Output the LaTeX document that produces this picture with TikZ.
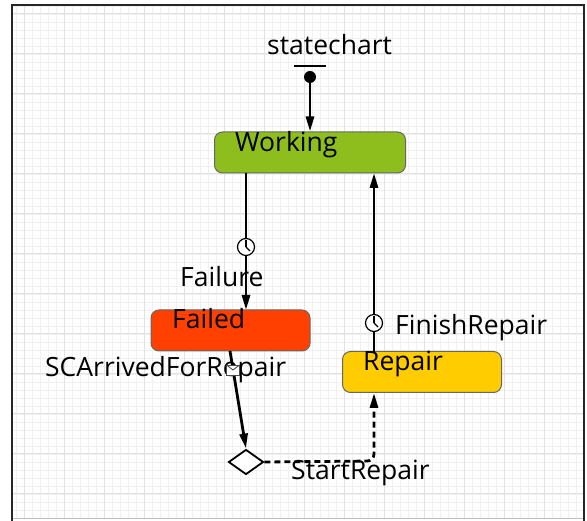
\documentclass[tikz,border=0pt]{standalone}
\usepackage{fontspec}
\setmainfont{Open Sans}
\usetikzlibrary{arrows.meta, shapes.geometric}
\definecolor{workingcol}{RGB}{141,190,30}
\definecolor{failedcol}{RGB}{255,64,0}
\definecolor{repaircol}{RGB}{255,204,0}
\definecolor{minorgrid}{RGB}{240,240,240}
\definecolor{majorgrid}{RGB}{226,226,226}

\begin{document}
\begin{tikzpicture}[x=1pt, y=-1pt,
    state/.style={draw=black!60, line width=1pt, rounded corners=8pt,
      inner sep=0pt},
    txt/.style={font=\fontsize{26.5}{29}\selectfont, inner sep=0pt, anchor=base west},
    trans/.style={line width=2.8pt, -{Triangle[length=15pt,width=8pt]}},
    clock/.style={circle, draw, fill=white, line width=1.2pt, minimum size=17pt,
      inner sep=0pt,
      path picture={
        \draw[line width=1.2pt] (path picture bounding box.center) -- ++(0pt,6.5pt);
        \draw[line width=1.2pt] (path picture bounding box.center) -- ++(4pt,-4pt);
      }},
    envelope/.style={rectangle, draw=black!70, fill=white, line width=0.9pt,
      minimum width=13pt, minimum height=10pt, inner sep=0pt,
      path picture={
        \draw[black!70, line width=0.9pt] (path picture bounding box.north west)
          -- (path picture bounding box.center)
          -- (path picture bounding box.north east);
      }}]

    % canvas and grid
    \useasboundingbox (0,0) rectangle (587,521);
    \fill[white] (0,0) rectangle (587,521);
    \foreach \x in {16,24,...,580} \draw[minorgrid, line width=0.8pt] (\x,5) -- (\x,519);
    \foreach \y in {6,14,...,518} \draw[minorgrid, line width=0.8pt] (12,\y) -- (584,\y);
    \foreach \x in {24,64,...,580} \draw[majorgrid, line width=1pt] (\x,5) -- (\x,519);
    \foreach \y in {14,54,...,518} \draw[majorgrid, line width=1pt] (12,\y) -- (584,\y);
    \draw[black!25, line width=1pt] (12,519) -- (584,519);
    \draw[black!85, line width=2.5pt] (12,521) -- (12,5) -- (584,5) -- (584,521);

    % states
    \node[state, fill=workingcol, minimum width=191pt, minimum height=41pt] (working) at (310,152.5) {};
    \node[state, fill=failedcol, minimum width=159pt, minimum height=41pt] (failed) at (230.5,330.5) {};
    \node[state, fill=repaircol, minimum width=159pt, minimum height=41pt] (repair) at (422,372) {};
    \node[txt] (workinglbl) at (235,152) {Working};
    \node[txt] (failedlbl) at (172,329) {Failed};
    \node[txt] (repairlbl) at (363,371) {Repair};

    % initial pseudo state
    \node[txt] (chartname) at (267,55) {statechart};
    \coordinate (barl) at (294,66);
    \coordinate (barr) at (326,66);
    \draw[line width=2.8pt] (barl) -- (barr);
    \node[circle, fill=black, minimum size=12pt, inner sep=0pt] (init) at (310,77) {};
    \draw[trans] (init) -- (working.north);

    % branch
    \node[diamond, draw, fill=white, line width=1.8pt, minimum width=35pt,
      minimum height=25pt, inner sep=0pt] (branch) at (246,462) {};

    % transitions
    \coordinate (wf) at (246,173);
    \coordinate (ft) at (246,310);
    \draw[trans] (wf) -- (ft);
    \node[clock] (failclock) at (246,247) {};
    \node[txt] (failurelbl) at (180,287) {Failure};

    \coordinate (fb) at (230,351);
    \draw[trans] (fb) -- (branch.north);
    \node[txt] (arrivedlbl) at (45,377) {SCArrivedForRepair};
    \node[envelope] (arrivedmsg) at (233,370) {};

    \coordinate (rb) at (374,393);
    \coordinate (corner) at (374,461);
    \draw[trans, dash pattern=on 6pt off 4pt, rounded corners=7pt]
      (branch.east) -- (corner) -- (rb);
    \node[txt] (startlbl) at (291,480) {StartRepair};

    \coordinate (rt) at (374,352);
    \coordinate (wb) at (374,173);
    \draw[trans] (rt) -- (wb);
    \node[clock] (finishclock) at (374,323) {};
    \node[txt] (finishlbl) at (395,335) {FinishRepair};
\end{tikzpicture}
\end{document}
